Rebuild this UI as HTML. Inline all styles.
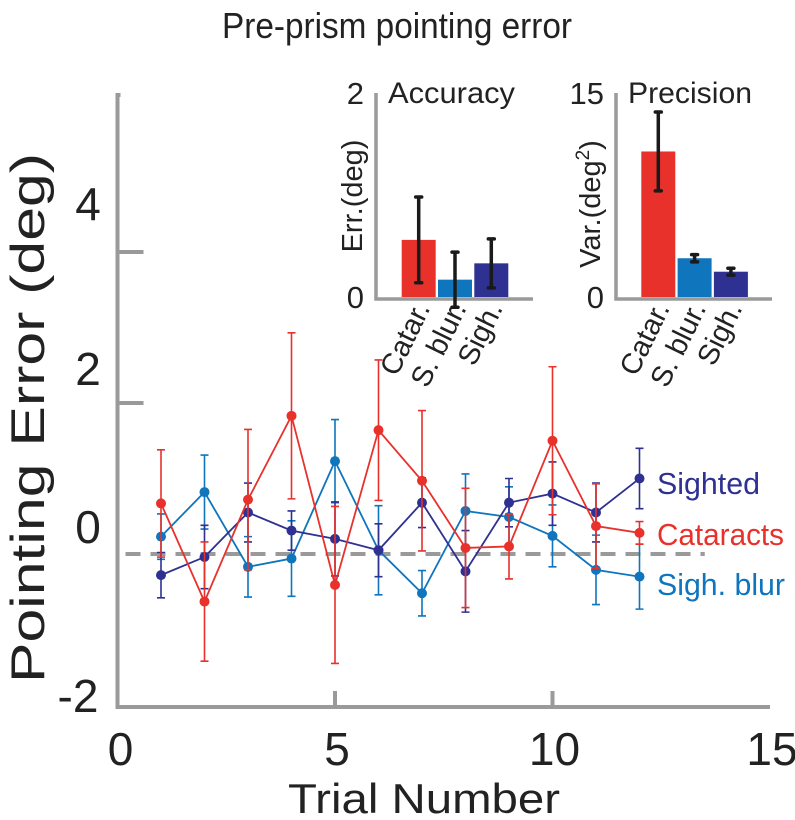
<!DOCTYPE html>
<html><head><meta charset="utf-8"><style>
html,body{margin:0;padding:0;background:#fff;}
svg{display:block;font-family:"Liberation Sans",Arial,sans-serif;}
</style></head><body>
<svg id="chart" width="795" height="820" viewBox="0 0 795 820" xmlns="http://www.w3.org/2000/svg">
<text x="397" y="38" text-anchor="middle" font-size="36" textLength="350" lengthAdjust="spacingAndGlyphs" fill="#222">Pre-prism pointing error</text>
<text transform="translate(44,418) rotate(-90)" text-anchor="middle" font-size="47" textLength="530" lengthAdjust="spacingAndGlyphs" fill="#222">Pointing Error (deg)</text>
<text x="424" y="813" text-anchor="middle" font-size="42" textLength="272" lengthAdjust="spacingAndGlyphs" fill="#222">Trial Number</text>
<g id="main"></g>
<g id="inset1"></g>
<g id="inset2"></g>
</svg>
<script>
const trials=[1,2,3,4,5,6,7,8,9,10,11,12];
const cataractsMean=[0.67,-0.63,0.72,1.83,-0.41,1.64,0.97,0.08,0.10,1.50,0.37,0.28];
const cataractsErr=[0.71,0.79,0.93,1.10,1.04,0.93,0.93,0.79,0.43,0.98,0.56,0.15];
const sightedMean=[-0.28,-0.04,0.55,0.31,0.20,0.05,0.68,-0.23,0.68,0.80,0.55,1.00];
const sightedErr=[0.30,0.42,0.39,0.26,0.49,0.35,0.33,0.54,0.32,0.42,0.39,0.40];
const blurMean=[0.23,0.82,-0.17,-0.06,1.23,0.05,-0.52,0.57,0.49,0.24,-0.21,-0.30];
const blurErr=[0.30,0.49,0.40,0.50,0.55,0.59,0.30,0.49,0.40,0.41,0.46,0.43];
const xTicks=[0,5,10,15];
const yTickLabels=["4","2","0","-2"];
const accCats=["Catar.","S. blur.","Sigh."];
const accVals=[0.56,0.17,0.33];
const accErr=[0.42,0.27,0.24];
const precVals=[10.7,2.85,1.86];
const precErr=[2.9,0.27,0.25];

const NS="http://www.w3.org/2000/svg";
function mk(parent,tag,attrs,text){const e=document.createElementNS(NS,tag);for(const k in attrs)e.setAttribute(k,attrs[k]);if(text!==undefined)e.textContent=text;parent.appendChild(e);return e;}
const X=t=>117.5+43.5*t;
const Y=v=>554-75.5*v;
const GRAY="#9a9a9a";
const main=document.getElementById('main');

let a=mk(main,'path',{d:`M${X(0)+3} 95 H${X(0)} V${Y(-2)+2} H${X(15)}`,fill:'none',stroke:GRAY,'stroke-width':4});


[2,4].forEach(v=>{const t=mk(main,'line',{x1:X(0),x2:X(0)+26,y1:Y(v),y2:Y(v),stroke:GRAY,'stroke-width':4});

});
[5,10].forEach(v=>{const t=mk(main,'line',{x1:X(v),x2:X(v),y1:Y(-2)+2,y2:Y(-2)-14,stroke:GRAY,'stroke-width':4});

});
const yLabelPos=[203,368,526,695];
yTickLabels.forEach((s,i)=>{const t=mk(main,'text',{x:s.startsWith('-')?78:88,y:yLabelPos[i]+17,'text-anchor':'middle','font-size':46,fill:'#222'},s);

});
xTicks.forEach(v=>{const t=mk(main,'text',{x:X(v)+(v===0?3:2),y:765,'text-anchor':'middle','font-size':46,fill:'#222'},String(v));

});
let d=mk(main,'line',{x1:X(0)+8,x2:X(13.5),y1:Y(0),y2:Y(0),stroke:GRAY,'stroke-width':4,'stroke-dasharray':'15 10'});



function series(name,mean,err,color){
  const g=mk(main,'g',{});
  
  
  trials.forEach((t,i)=>{const x=X(t),y1=Y(mean[i]+err[i]),y2=Y(mean[i]-err[i]);
    const e=mk(g,'path',{d:`M${x} ${y1}V${y2}M${x-4} ${y1}H${x+4}M${x-4} ${y2}H${x+4}`,stroke:color,'stroke-width':1.6,fill:'none'});
    
    });
  const l=mk(g,'polyline',{points:trials.map((t,i)=>X(t)+','+Y(mean[i])).join(' '),fill:'none',stroke:color,'stroke-width':1.8});
  
  
  trials.forEach((t,i)=>{const c=mk(g,'circle',{cx:X(t),cy:Y(mean[i]),r:5,fill:color});
    
    });
}
const RED="#e8312b",DARK="#2e3192",BLUE="#0f75bc";
series('sigh-blur',blurMean,blurErr,BLUE);
series('sighted',sightedMean,sightedErr,DARK);
series('cataracts',cataractsMean,cataractsErr,RED);
[["Sighted",DARK,494,103],["Cataracts",RED,545,127],["Sigh. blur",BLUE,595,128]].forEach(([s,c,y,w])=>{
  const t=mk(main,'text',{x:657,y:y,'font-size':31,fill:c,textLength:w,lengthAdjust:'spacingAndGlyphs'},s);
  
  });

function inset(id,ax,axRight,vals,errs,maxV,topLabel,title,titleW,barX){
  const g=document.getElementById(id);
  const base=297,top=93;
  const Yi=v=>base-(base-top)*v/maxV;
  const p=mk(g,'path',{d:`M${ax} ${top} V${base+2} H${axRight}`,fill:'none',stroke:GRAY,'stroke-width':3.5});
  
  
  const cols=[RED,BLUE,DARK];
  vals.forEach((v,i)=>{
    const r=mk(g,'rect',{x:barX+i*36.3,y:Yi(v),width:34,height:base-Yi(v),fill:cols[i]});
    
    
    const cx=barX+i*36.3+17,y1=Yi(v+errs[i]),y2=Yi(v-errs[i]);
    const e=mk(g,'path',{d:`M${cx} ${y1}V${y2}M${cx-3} ${y1}H${cx+3}M${cx-3} ${y2}H${cx+3}`,stroke:'#1a1a1a','stroke-width':3.5,fill:'none','stroke-linecap':'round'});
    
    
    const l=mk(g,'text',{transform:`translate(${cx+12},308) rotate(-64)`,'text-anchor':'end','font-size':29,fill:'#222'},accCats[i]);
    
    
  });
  const t1=mk(g,'text',{x:ax-12,y:top+11,'text-anchor':'end','font-size':31,fill:'#222'},topLabel);
  
  
  const t0=mk(g,'text',{x:ax-12,y:base+11,'text-anchor':'end','font-size':31,fill:'#222'},"0");
  
  
  const tt=mk(g,'text',{x:ax+12,y:top+10,'font-size':30,fill:'#222',textLength:titleW,lengthAdjust:'spacingAndGlyphs'},title);
  
  
  return {g,ax};
}
const i1=inset('inset1',376,533,accVals,accErr,2,"2","Accuracy",127,401.7);
const i2=inset('inset2',616,772,precVals,precErr,15,"15","Precision",124,641.3);
let yl1=mk(i1.g,'text',{transform:'translate(362,196) rotate(-90)','text-anchor':'middle','font-size':29,fill:'#222'},"Err.(deg)");


let yl2=mk(i2.g,'text',{transform:'translate(600,204) rotate(-90)','text-anchor':'middle','font-size':29,fill:'#222'});


mk(yl2,'tspan',{},"Var.(deg");
mk(yl2,'tspan',{'font-size':19,dy:-11},"2");
mk(yl2,'tspan',{dy:11},")");
</script>
</body></html>
